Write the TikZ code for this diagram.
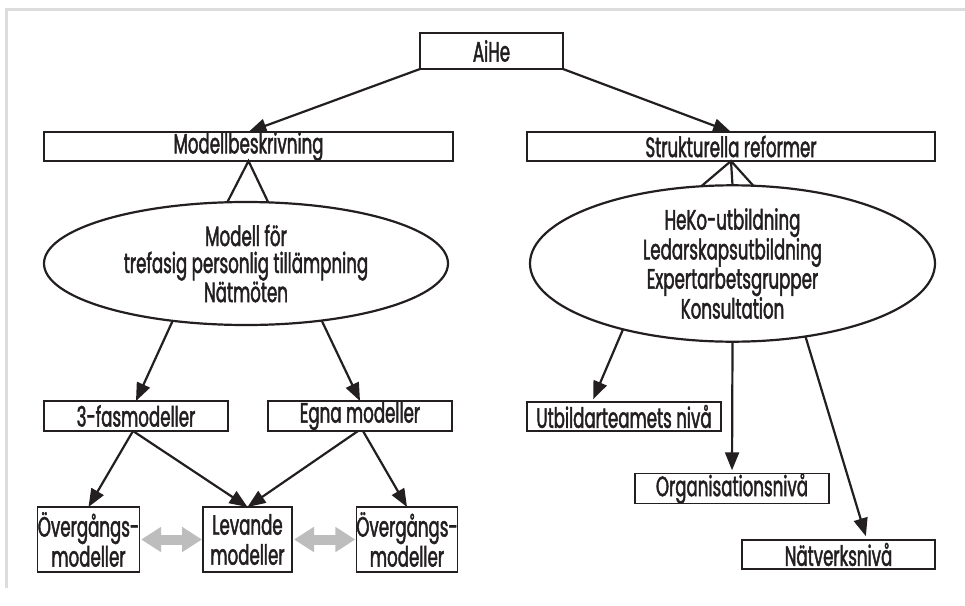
\documentclass[tikz,border=0pt]{standalone}
\usepackage{fontspec}
\newfontfamily\diafont{Poppins}[FakeStretch=0.595,FakeBold=1.6]
\usetikzlibrary{arrows.meta,shapes.geometric}
\definecolor{ink}{HTML}{231F20}
\definecolor{framec}{HTML}{DCDCDC}
\definecolor{dblgray}{HTML}{BDBDBD}
\tikzset{
  txt/.style={font=\diafont\fontsize{28}{27}\selectfont, text=ink},
  box/.style={txt, draw=ink, line width=1.3pt, fill=white, inner sep=0pt, outer sep=0pt, align=center},
  oval/.style={txt, ellipse, draw=ink, line width=2.2pt, inner sep=0pt, outer sep=0pt, align=center},
  conn/.style={draw=ink, line width=2.2pt},
  arr/.style={conn, -{Triangle[length=18pt,width=14pt]}},
  dbl/.style={draw=dblgray, line width=10pt, {Triangle[length=20pt,width=24pt]}-{Triangle[length=20pt,width=24pt]}},
  twoline/.style={font=\diafont\fontsize{28}{30}\selectfont}
}
\begin{document}
\begin{tikzpicture}[x=1pt,y=-1pt]
\useasboundingbox (0,0) rectangle (965,605);
\fill[white] (0,0) rectangle (965,605);
\draw[framec, line width=3pt] (965,9.5) -- (6,9.5) -- (6,588);

% top
\node[box, minimum width=143pt, minimum height=36pt] (aihe) at (491.5,51) {AiHe};
\node[box, minimum width=409pt, minimum height=29pt] (mb) at (248.5,146.5) {Modellbeskrivning};
\node[box, minimum width=408pt, minimum height=29pt] (sr) at (731,146.5) {Strukturella reformer};

\draw[arr] (aihe.south west) -- (mb.north);
\draw[arr] (aihe.south east) -- (sr.north);

% ellipses
\node[oval, minimum width=404pt, minimum height=123pt] (lov) at (246,263.5)
  {Modell för\\trefasig personlig tillämpning\\Nätmöten};
\node[oval, minimum width=405pt, minimum height=123pt] (rov) at (732.5,263.5)
  {HeKo-utbildning\\Ledarskapsutbildning\\Expertarbetsgrupper\\Konsultation};

\draw[conn] (lov.107) -- (mb.south) -- (lov.70);
\draw[conn] (rov.112) -- (sr.south) -- (rov.75);
\draw[conn] (sr.south) -- (rov.90);

% left lower
\node[box, minimum width=184pt, minimum height=30pt] (tfas) at (136,416) {3-fasmodeller};
\node[box, minimum width=184pt, minimum height=30pt] (egna) at (360,416) {Egna modeller};
\draw[arr] (lov.218) -- (tfas.north);
\draw[arr] (lov.323) -- (egna.north);

\node[box, twoline, minimum width=89pt, minimum height=65pt] (ov1) at (88.5,539.5) {Övergångs-\\modeller};
\node[box, twoline, minimum width=89pt, minimum height=65pt] (lev) at (247.5,539.5) {Levande\\modeller};
\node[box, twoline, minimum width=90pt, minimum height=65pt] (ov2) at (407,539.5) {Övergångs-\\modeller};

\draw[arr] ([xshift=-3pt]tfas.south) -- (ov1.north);
\draw[arr] ([xshift=-3pt]tfas.south) -- (lev.north);
\draw[arr] ([xshift=-2pt]egna.south) -- (lev.north);
\draw[arr] ([xshift=3pt]egna.south) -- (ov2.north);

\draw[dbl, shorten <=2pt, shorten >=1pt] (ov1.east) -- (lev.west);
\draw[dbl, shorten <=2pt, shorten >=1pt] (lev.east) -- (ov2.west);

% right lower
\node[box, minimum width=194pt, minimum height=29pt] (utb) at (624,416.5) {Utbildarteamets nivå};
\node[box, minimum width=194pt, minimum height=29pt] (org) at (732,488.5) {Organisationsnivå};
\node[box, minimum width=193pt, minimum height=29pt] (nat) at (838.5,554.5) {Nätverksnivå};

\draw[arr, shorten >=3pt] (rov.211) -- ([xshift=-32pt]utb.north);
\draw[arr, shorten >=3pt] (rov.270) -- (org.north);
\draw[arr, shorten >=4pt] (rov.315.6) -- ([xshift=28.5pt]nat.north);
\end{tikzpicture}
\end{document}
